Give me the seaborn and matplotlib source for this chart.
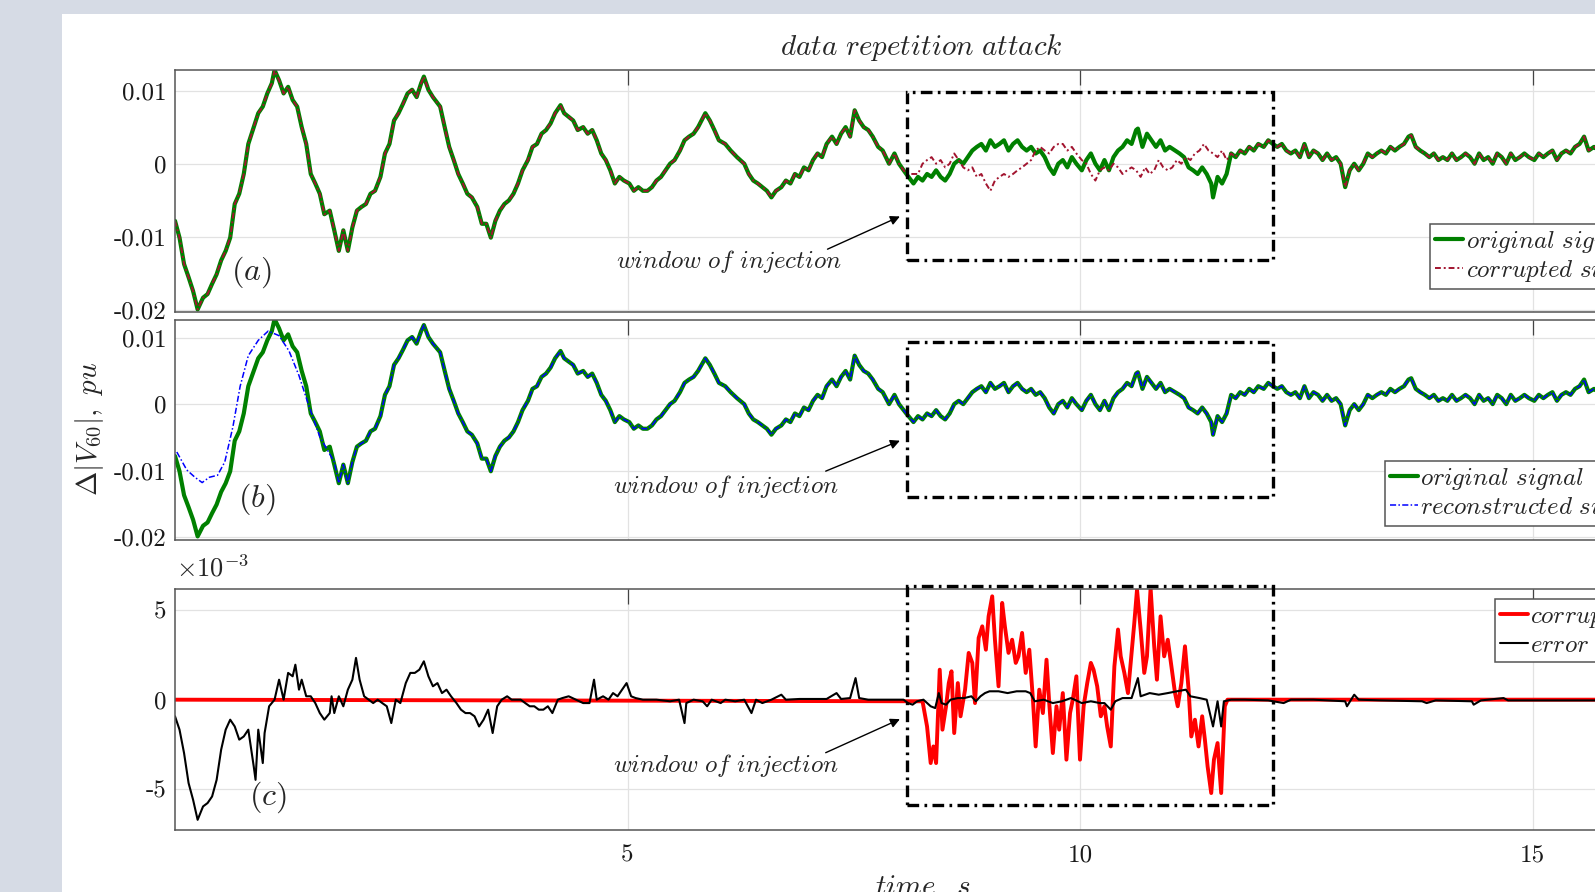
import numpy as np
import matplotlib
matplotlib.use('Agg')
import matplotlib.pyplot as plt
from matplotlib.patches import Rectangle
import seaborn as sns

sns.set_style('white')
plt.rcParams['mathtext.fontset'] = 'cm'
plt.rcParams['axes.unicode_minus'] = False

# ---- data ----
# original signal, time (s) and value (x1e-3 pu)
t_orig = [0.00, 0.05, 0.10, 0.15, 0.20, 0.25, 0.31, 0.36, 0.41, 0.46, 0.51, 0.56, 0.61, 0.66, 0.71, 0.76,
          0.81, 0.87, 0.92, 0.97, 1.02, 1.07, 1.10, 1.15, 1.20, 1.25, 1.30, 1.35, 1.40, 1.45, 1.50, 1.55,
          1.60, 1.65, 1.71, 1.76, 1.81, 1.86, 1.91, 1.96, 2.01, 2.06, 2.11, 2.16, 2.21, 2.27, 2.32, 2.37,
          2.42, 2.47, 2.52, 2.57, 2.62, 2.67, 2.72, 2.75, 2.80, 2.85, 2.93, 2.98, 3.03, 3.08, 3.13, 3.18,
          3.23, 3.28, 3.34, 3.39, 3.44, 3.49, 3.54, 3.59, 3.64, 3.69, 3.74, 3.79, 3.84, 3.90, 3.95, 4.00,
          4.05, 4.10, 4.15, 4.20, 4.26, 4.30, 4.35, 4.40, 4.45, 4.51, 4.56, 4.61, 4.66, 4.71, 4.76, 4.81,
          4.86, 4.91, 4.96, 5.02, 5.07, 5.12, 5.17, 5.22, 5.27, 5.32, 5.37, 5.42, 5.47, 5.52, 5.58, 5.63,
          5.68, 5.73, 5.78, 5.86, 5.91, 5.96, 6.01, 6.08, 6.14, 6.21, 6.29, 6.34, 6.39, 6.44, 6.49, 6.54,
          6.59, 6.64, 6.70, 6.75, 6.80, 6.85, 6.90, 6.95, 7.00, 7.05, 7.10, 7.15, 7.20, 7.26, 7.31, 7.36,
          7.41, 7.46, 7.51, 7.56, 7.61, 7.66, 7.71, 7.77, 7.82, 7.89, 7.95, 8.00, 8.08, 8.16, 8.21, 8.26,
          8.31, 8.36, 8.41, 8.46, 8.51, 8.56, 8.61, 8.66, 8.71, 8.76, 8.81, 8.86, 8.91, 8.96, 9.01, 9.06,
          9.11, 9.16, 9.21, 9.26, 9.31, 9.36, 9.41, 9.46, 9.51, 9.56, 9.61, 9.66, 9.71, 9.76, 9.81, 9.86,
          9.91, 9.96, 10.02, 10.07, 10.12, 10.17, 10.22, 10.27, 10.32, 10.37, 10.42, 10.47, 10.52, 10.57,
          10.62, 10.64, 10.69, 10.74, 10.79, 10.84, 10.89, 10.94, 10.99, 11.05, 11.10, 11.15, 11.20, 11.25,
          11.30, 11.35, 11.40, 11.45, 11.47, 11.52, 11.57, 11.62, 11.67, 11.72, 11.77, 11.82, 11.87, 11.92,
          11.97, 12.03, 12.08, 12.13, 12.18, 12.23, 12.28, 12.33, 12.38, 12.43, 12.48, 12.53, 12.58, 12.63,
          12.68, 12.73, 12.78, 12.83, 12.88, 12.93, 12.98, 13.03, 13.08, 13.13, 13.18, 13.23, 13.28, 13.33,
          13.38, 13.43, 13.48, 13.53, 13.58, 13.63, 13.66, 13.71, 13.76, 13.81, 13.86, 13.91, 13.96, 14.01,
          14.06, 14.11, 14.16, 14.21, 14.26, 14.31, 14.36, 14.41, 14.46, 14.51, 14.56, 14.61, 14.66, 14.71,
          14.76, 14.81, 14.86, 14.91, 14.96, 15.02, 15.07, 15.12, 15.17, 15.22, 15.27, 15.32, 15.37, 15.42,
          15.47, 15.52, 15.57, 15.62, 15.68, 15.75]
v_orig = [-7.8, -10.1, -13.7, -15.5, -17.4, -19.9, -18.3, -17.8, -16.4, -15.1, -13.2, -11.9, -10.1, -5.5, -4.1, -1.4,
          2.7, 5.0, 6.9, 7.8, 9.6, 11.0, 12.8, 11.4, 9.6, 10.5, 8.7, 7.8, 5.0, 2.7, -1.4, -2.7,
          -4.1, -6.9, -6.4, -9.1, -11.9, -9.1, -11.9, -8.7, -6.4, -5.9, -5.5, -4.1, -3.7, -1.8, 1.4, 2.7,
          5.9, 6.9, 8.2, 9.6, 10.1, 9.1, 11.0, 11.9, 10.1, 9.1, 7.8, 5.0, 2.3, 0.5, -1.4, -2.7,
          -4.1, -4.6, -5.9, -8.2, -8.2, -10.1, -7.8, -6.4, -5.5, -5.0, -4.1, -2.7, -0.9, 0.5, 2.3, 2.7,
          4.1, 4.6, 5.5, 6.9, 8.0, 6.9, 6.4, 5.9, 4.6, 5.0, 4.1, 4.6, 3.2, 1.4, 0.5, -0.9,
          -2.7, -1.8, -2.3, -2.7, -3.7, -3.2, -3.7, -3.7, -3.2, -2.3, -1.8, -0.9, 0.0, 0.5, 1.8, 3.2,
          3.7, 4.1, 5.0, 6.9, 5.9, 4.6, 3.2, 2.7, 1.8, 0.9, 0.0, -1.4, -2.3, -2.7, -3.2, -3.7,
          -4.6, -3.7, -3.2, -2.3, -2.7, -1.4, -1.8, -0.5, -0.9, 0.5, 1.4, 0.9, 2.7, 3.7, 2.7, 4.1,
          5.0, 3.7, 7.3, 5.9, 5.0, 4.6, 3.7, 2.3, 1.8, 0.0, 1.4, 0.0, -1.4, -2.7, -1.8, -2.3,
          -1.4, -1.8, -0.9, -1.8, -2.3, -1.4, 0.0, 0.5, 0.0, 0.9, 1.8, 2.3, 2.7, 1.8, 3.2, 2.3,
          2.7, 3.2, 1.8, 2.7, 3.2, 2.3, 1.8, 2.3, 1.4, 1.8, 0.9, -0.5, -1.4, 0.0, 0.5, -0.5,
          0.9, 0.0, -0.9, 0.5, 1.4, 0.0, -0.9, 0.5, -0.9, 0.9, 1.8, 2.3, 3.2, 2.7,
          4.6, 4.8, 2.3, 4.1, 3.2, 2.3, 3.2, 1.8, 2.3, 1.8, 1.4, 0.9, -0.5, -0.9,
          -1.4, -0.5, -1.4, -2.7, -4.6, -1.8, -2.7, -1.4, 1.4, 0.9, 1.8, 1.4, 2.3, 1.8,
          2.7, 2.3, 3.2, 2.7, 2.3, 2.7, 1.8, 1.4, 1.8, 0.9, 2.7, 0.9, 1.8, 1.4,
          0.5, 1.4, 0.5, 0.9, 0.0, -3.2, -0.9, 0.0, -0.9, 0.0, 1.4, 0.9, 1.4, 1.8,
          1.4, 2.3, 1.8, 2.3, 2.7, 3.7, 3.9, 2.3, 1.8, 1.4, 0.9, 1.4, 0.5, 0.9,
          0.5, 1.4, 0.5, 0.9, 1.4, 0.9, 0.0, 1.4, 0.5, 0.9, 0.0, 1.4, 0.9, 0.0,
          1.4, 0.5, 0.9, 1.4, 0.9, 0.5, 1.4, 0.9, 1.4, 1.8, 0.5, 1.4, 1.8, 1.4,
          2.3, 2.7, 3.7, 1.8, 2.3, 1.6]

# corrupted signal inside the injection window (x1e-3 pu)
t_corr_win = [8.11, 8.21, 8.26, 8.31, 8.36, 8.41, 8.46, 8.51, 8.56, 8.61, 8.66, 8.71, 8.76, 8.81, 8.86, 8.91,
              8.96, 9.01, 9.06, 9.11, 9.16, 9.21, 9.26, 9.31, 9.36, 9.41, 9.46, 9.51, 9.56, 9.61, 9.66, 9.71,
              9.76, 9.81, 9.86, 9.91, 9.96, 10.02, 10.07, 10.12, 10.17, 10.22, 10.27, 10.32, 10.37, 10.42,
              10.47, 10.52, 10.57, 10.62, 10.67, 10.72, 10.77, 10.82, 10.87, 10.92, 10.97, 11.02, 11.07,
              11.12, 11.17, 11.22, 11.27, 11.32, 11.37, 11.42, 11.47, 11.52, 11.57, 11.62]
v_corr_win = [-1.4, -1.4, 0.0, 0.5, 0.9, 0.0, 0.5, -0.5, 0.0, 1.4, 0.5, -0.5, -0.9, -0.5, -1.8, -1.4,
              -2.7, -3.7, -2.3, -1.8, -1.4, -1.8, -1.4, -0.9, -0.5, 0.0, 0.5, 1.8, 2.3, 1.8, 1.4, 2.3,
              2.7, 2.7, 1.8, 2.3, 1.4, 0.5, 0.0, -1.4, -2.3, -0.9, -0.5, -0.9, 0.0, -0.5,
              -1.4, -0.9, -0.5, -0.9, -1.8, -0.5, -1.4, -0.9, 0.5, -0.5, -0.9, -0.5, 0.5,
              0.0, 0.9, 0.5, 1.4, 1.8, 2.7, 1.8, 1.4, 0.9, 1.8, 0.5]

# reconstructed signal where it departs from the original (x1e-3 pu)
t_recon_start = [0.02, 0.13, 0.22, 0.30, 0.38, 0.47, 0.55, 0.64, 0.72, 0.81, 0.92, 1.03, 1.15, 1.26,
                 1.37, 1.48, 1.60, 1.76]
v_recon_start = [-7.2, -9.9, -11.0, -11.8, -11.0, -10.7, -8.7, -3.4, 2.7, 7.3, 9.6, 11.0, 10.3, 8.0,
                 4.3, -0.3, -4.9, -8.7]

# reconstruction error (x1e-3)
t_err = [0.00, 0.05, 0.10, 0.15, 0.20, 0.25, 0.31, 0.36, 0.41, 0.46, 0.51, 0.56, 0.61, 0.66, 0.71, 0.76,
         0.81, 0.87, 0.89, 0.92, 0.97, 0.99, 1.04, 1.10, 1.15, 1.20, 1.25, 1.30, 1.33, 1.37, 1.40, 1.45,
         1.50, 1.55, 1.60, 1.65, 1.71, 1.73, 1.76, 1.81, 1.86, 1.91, 1.96, 2.00, 2.04, 2.09, 2.14, 2.19,
         2.24, 2.29, 2.34, 2.39, 2.44, 2.49, 2.55, 2.60, 2.65, 2.70, 2.75, 2.80, 2.85, 2.90, 2.95, 3.00,
         3.05, 3.11, 3.16, 3.21, 3.26, 3.31, 3.36, 3.41, 3.46, 3.51, 3.56, 3.61, 3.67, 3.72, 3.77, 3.82,
         3.87, 3.92, 3.97, 4.02, 4.07, 4.12, 4.17, 4.23, 4.28, 4.35, 4.43, 4.51, 4.58, 4.63, 4.66, 4.73,
         4.79, 4.84, 4.89, 4.94, 4.99, 5.04, 5.09, 5.17, 5.32, 5.47, 5.57, 5.63, 5.65, 5.73, 5.83, 5.88,
         5.93, 6.03, 6.08, 6.19, 6.29, 6.37, 6.42, 6.49, 6.59, 6.70, 6.75, 6.90, 7.05, 7.20, 7.31, 7.36,
         7.46, 7.52, 7.56, 7.66, 7.91, 8.05, 8.10, 8.15, 8.20, 8.27, 8.35, 8.40, 8.44, 8.47, 8.52, 8.57,
         8.65, 8.72, 8.80, 8.85, 8.90, 8.95, 9.00, 9.10, 9.20, 9.30, 9.40, 9.45, 9.50, 9.60, 9.70, 9.80,
         9.90, 10.02, 10.12, 10.22, 10.27, 10.34, 10.39, 10.47, 10.57, 10.64, 10.67, 10.77, 10.87, 10.97,
         11.07, 11.17, 11.22, 11.32, 11.40, 11.47, 11.52, 11.56, 11.59, 11.67, 11.82, 12.08, 12.25, 12.33,
         12.58, 12.93, 12.95, 13.03, 13.08, 13.33, 13.78, 13.83, 13.93, 14.33, 14.35, 14.43, 14.68, 14.73,
         15.07, 15.75]
v_err = [-0.93, -1.68, -2.99, -4.67, -5.61, -6.73, -5.98, -5.79, -5.42, -4.49, -2.80, -1.68, -1.12, -1.50, -2.24, -2.06,
         -1.68, -3.74, -4.49, -1.68, -3.55, -1.87, -0.37, 0.0, 1.12, 0.0, 1.50, 1.31, 1.96, 0.56, 1.12, 0.19,
         0.19, -0.19, -0.75, -1.12, -0.75, 0.19, -0.75, 0.19, -0.37, 0.56, 1.12, 2.34, 1.12, 0.19, 0.0, -0.19,
         0.0, -0.19, -0.37, -1.31, 0.0, -0.19, 0.93, 1.50, 1.50, 1.68, 2.15, 1.31, 0.75, 0.93, 0.37, 0.56,
         0.19, -0.19, -0.56, -0.75, -0.75, -0.93, -1.50, -1.12, -0.56, -1.87, -0.37, 0.0, 0.19, 0.0, 0.0, 0.0,
         -0.19, -0.37, -0.37, -0.56, -0.56, -0.37, -0.75, 0.0, 0.09, 0.19, 0.0, -0.19, -0.19, 1.12, 0.0, 0.19,
         0.0, 0.37, 0.19, 0.56, 0.93, 0.19, 0.09, 0.0, 0.0, -0.09, 0.0, -1.31, -0.19, 0.0, -0.09, -0.37,
         0.0, -0.19, 0.0, -0.09, 0.0, -0.75, 0.0, -0.19, 0.0, 0.28, 0.0, 0.04, 0.04, 0.04, 0.37, 0.04,
         0.09, 1.21, 0.09, 0.0, 0.0, 0.0, -0.19, -0.28, -0.09, 0.0, -0.37, -0.47, 0.37, -0.19, -0.28, 0.0,
         0.09, 0.09, 0.19, -0.09, 0.19, 0.37, 0.47, 0.47, 0.37, 0.47, 0.47, 0.37, -0.09, 0.0, -0.19, -0.09,
         0.09, -0.19, -0.09, -0.19, -0.19, -0.56, -0.09, 0.09, 0.09, 1.21, 0.19, 0.37, 0.28, 0.37,
         0.47, 0.56, 0.19, 0.09, 0.0, -1.50, -0.09, -1.50, -0.09, 0.0, 0.0, -0.04, -0.19, 0.0,
         0.0, -0.09, -0.37, 0.28, 0.0, -0.04, -0.09, -0.19, -0.04, -0.09, -0.28, -0.04, 0.09, -0.04,
         -0.04, -0.04]

# corrupted signal minus original (x1e-3), zero outside the window
t_cerr = [0.0, 8.26, 8.31, 8.35, 8.38, 8.41, 8.45, 8.48, 8.52, 8.55, 8.58, 8.61, 8.65, 8.68, 8.73, 8.77,
          8.81, 8.84, 8.88, 8.92, 8.96, 8.99, 9.03, 9.06, 9.10, 9.14, 9.17, 9.21, 9.25, 9.29, 9.32, 9.36,
          9.40, 9.44, 9.48, 9.51, 9.55, 9.59, 9.63, 9.66, 9.70, 9.74, 9.77, 9.81, 9.85, 9.89, 9.92, 9.96,
          10.00, 10.04, 10.08, 10.12, 10.15, 10.19, 10.23, 10.27, 10.30, 10.34, 10.38, 10.42, 10.45, 10.49,
          10.53, 10.57, 10.60, 10.63, 10.67, 10.71, 10.74, 10.78, 10.82, 10.85, 10.89, 10.93, 10.97, 11.01,
          11.05, 11.08, 11.12, 11.16, 11.20, 11.23, 11.27, 11.31, 11.35, 11.38, 11.41, 11.45, 11.48, 11.52,
          11.56, 11.60, 11.63, 16.5]
v_cerr = [0.0, -0.09, -1.50, -3.55, -2.62, -3.55, 1.68, -1.68, -0.37, 0.93, 1.59, -1.87, 0.93, -0.93, 0.56, 2.62,
          2.06, -0.19, 3.46, 4.11, 2.80, 4.67, 5.79, 3.36, 0.75, 5.42, 4.11, 2.62, 3.36, 2.06, 2.43, 3.74,
          1.50, 2.80, 0.0, -2.62, 0.56, -0.75, 2.24, -0.19, -2.99, -0.37, -1.68, 0.37, -3.36, -0.75, 0.0, 1.31,
          -3.36, -0.37, 0.93, 2.06, 1.68, 0.75, -0.93, -0.37, -1.50, -2.62, 1.87, 3.93, 2.43, 1.50,
          0.37, 2.62, 4.30, 6.17, 3.93, 1.50, 2.43, 6.26, 2.99, 1.12, 4.67, 2.43, 3.36, 1.87,
          0.37, -0.37, 0.93, 2.99, 0.56, -2.06, -1.12, -2.62, -0.93, -2.24, -3.74, -5.23, -3.36, -2.43,
          -5.23, -0.37, 0.0, 0.0]

win_t = [8.09, 12.13]
win_y_a = [-13.2, 9.8]
win_y_b = [-14.0, 9.3]
win_y_c = [-5.9, 6.35]

# ---- derived series ----
t_o = np.array(t_orig)
v_o = np.array(v_orig) / 1000
t_corr = np.concatenate([t_o[t_o < 8.1], t_corr_win, t_o[t_o > 11.65]])
v_corr = np.concatenate([v_o[t_o < 8.1], np.array(v_corr_win) / 1000, v_o[t_o > 11.65]])
t_rec = np.concatenate([t_recon_start, t_o[t_o > 1.78]])
v_rec = np.concatenate([np.array(v_recon_start) / 1000, v_o[t_o > 1.78]])

W, H = 1595, 892
fig = plt.figure(figsize=(W / 100, H / 100), dpi=100)
fig.patch.set_facecolor('#d6dbe5')
fig.patches.append(Rectangle((62 / W, 0), 1, 1 - 14 / H, transform=fig.transFigure,
                             facecolor='white', edgecolor='none', zorder=-10))

left, width = 175 / W, 16.5 * 90.5 / W
ax_a = fig.add_axes([left, 1 - 312 / H, width, 242 / H])
ax_b = fig.add_axes([left, 1 - 540 / H, width, 220 / H])
ax_c = fig.add_axes([left, 1 - 830 / H, width, 241 / H])

green = '#008000'
darkred = '#A2142F'

sns.lineplot(x=t_o, y=v_o, ax=ax_a, color=green, lw=3.0, estimator=None, label='orig')
sns.lineplot(x=t_corr, y=v_corr, ax=ax_a, color=darkred, lw=1.4, estimator=None,
             linestyle=(0, (3, 1.5, 1, 1.5)), label='corr')
sns.lineplot(x=t_o, y=v_o, ax=ax_b, color=green, lw=3.0, estimator=None, label='orig')
sns.lineplot(x=t_rec, y=v_rec, ax=ax_b, color='#0000FF', lw=1.1, estimator=None,
             linestyle=(0, (4, 1.5, 1, 1.5)), label='rec')
sns.lineplot(x=t_cerr, y=v_cerr, ax=ax_c, color='#FF0000', lw=2.8, estimator=None, label='cerr')
sns.lineplot(x=t_err, y=v_err, ax=ax_c, color='black', lw=1.5, estimator=None, label='err')

ax_a.set_ylim(-0.02025, 0.0128)
ax_b.set_ylim(-0.02044, 0.01266)
ax_c.set_ylim(-7.3, 6.2)

for ax in (ax_a, ax_b):
    ax.set_yticks([-0.02, -0.01, 0, 0.01])
    ax.set_yticklabels(['-0.02', '-0.01', '0', '0.01'], fontfamily='cmr10')
ax_c.set_yticks([-5, 0, 5])
ax_c.set_yticklabels(['-5', '0', '5'], fontfamily='cmr10')

for ax in (ax_a, ax_b, ax_c):
    ax.set_xlim(0, 16.5)
    ax.set_xticks([5, 10, 15])
    ax.set_xlabel('')
    ax.set_ylabel('')
    ax.grid(True, color='#e2e2e2', lw=0.9)
    ax.set_axisbelow(True)
    for s in ax.spines.values():
        s.set_color('#555555')
        s.set_linewidth(1.1)
    ax.tick_params(direction='in', length=10.5, width=0.9, color='#444444', top=True, right=True,
                   labelsize=18, pad=6, labelcolor='#1a1a1a')
ax_a.tick_params(labelbottom=False)
ax_b.tick_params(labelbottom=False)
ax_c.set_xticklabels(['5', '10', '15'], fontfamily='cmr10')
ax_c.tick_params(axis='x', pad=10)

# injection windows, notes and labels
rect_style = dict(fill=False, ec='black', lw=2.4, ls=(0, (3.5, 1.6, 0.8, 1.6)), zorder=6)
ax_a.add_patch(Rectangle((win_t[0], win_y_a[0] / 1000), win_t[1] - win_t[0],
                         (win_y_a[1] - win_y_a[0]) / 1000, **rect_style))
ax_b.add_patch(Rectangle((win_t[0], win_y_b[0] / 1000), win_t[1] - win_t[0],
                         (win_y_b[1] - win_y_b[0]) / 1000, clip_on=False, **rect_style))
ax_c.add_patch(Rectangle((win_t[0], win_y_c[0]), win_t[1] - win_t[0],
                         win_y_c[1] - win_y_c[0], clip_on=False, **rect_style))

arrow = dict(arrowstyle='-|>', color='black', lw=1.0, mutation_scale=14, shrinkA=0, shrinkB=0)
note = r'$window\ of\ injection$'
ax_a.annotate('', xy=(8.01, -0.0072), xytext=(7.21, -0.01167), arrowprops=arrow)
ax_a.text(6.12, -0.01333, note, ha='center', va='center', fontsize=18)
ax_b.annotate('', xy=(8.01, -0.0055), xytext=(7.19, -0.01008), arrowprops=arrow)
ax_b.text(6.09, -0.01237, note, ha='center', va='center', fontsize=18)
ax_c.annotate('', xy=(8.01, -1.09), xytext=(7.19, -2.97), arrowprops=arrow)
ax_c.text(6.09, -3.66, note, ha='center', va='center', fontsize=18)

ax_a.text(0.84, -0.01486, r'$(a)$', ha='center', va='center', fontsize=23)
ax_b.text(0.90, -0.01435, r'$(b)$', ha='center', va='center', fontsize=23)
ax_c.text(1.02, -5.49, r'$(c)$', ha='center', va='center', fontsize=23)

ax_a.set_title(r'$data\ repetition\ attack$', fontsize=21, pad=11)
fig.text(176 / W, 1 - 569 / H, r'$\times10^{-3}$', fontsize=19, ha='left', va='center')
fig.text(90 / W, 1 - 429 / H, r'$\Delta|V_{60}|,\ pu$', fontsize=21, rotation=90,
         ha='center', va='center')
fig.text(923 / W, 1 - 888 / H, r'$time,\ s$', fontsize=21, ha='center', va='center')

# legends (partly beyond the right edge of the picture)
def put_legend(ax, labels, x, y):
    leg = ax.legend(ax.get_lines()[:2], labels, loc='upper left', bbox_to_anchor=(x / W, 1 - y / H),
                    bbox_transform=fig.transFigure, borderaxespad=0, fontsize=18, handlelength=1.1,
                    handletextpad=0.12, labelspacing=0.12, borderpad=0.2, fancybox=False,
                    framealpha=1, edgecolor='#555555')
    leg.get_frame().set_linewidth(1.1)

put_legend(ax_a, [r'$original\ signal$', r'$corrupted\ signal$'], 1430, 224)
put_legend(ax_b, [r'$original\ signal$', r'$reconstructed\ signal$'], 1385, 461)
put_legend(ax_c, [r'$corrupted\ error$', r'$error$'], 1495, 599)

fig.savefig('out.png', dpi=100, facecolor=fig.get_facecolor())
